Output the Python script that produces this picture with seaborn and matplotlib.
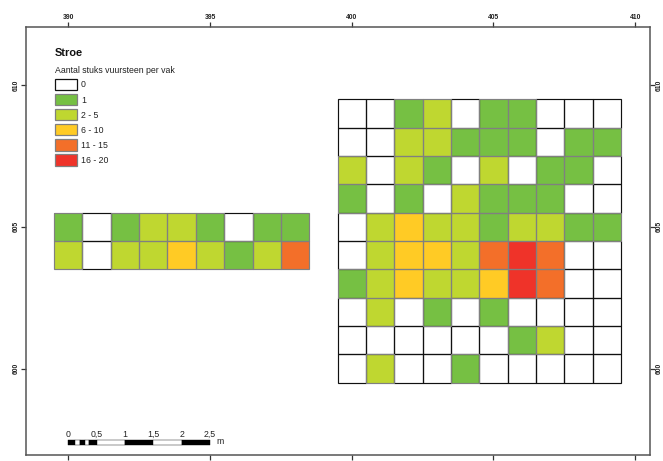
import numpy as np
import matplotlib
matplotlib.use("Agg")
import matplotlib.pyplot as plt
from matplotlib.colors import ListedColormap
from matplotlib.patches import Patch, Rectangle
import seaborn as sns

sns.set_theme(style="white")
plt.rcParams['font.family'] = ['Liberation Sans', 'DejaVu Sans']

title = "Stroe"
legend_title = "Aantal stuks vuursteen per vak"
class_labels = ["0", "1", "2 - 5", "6 - 10", "11 - 15", "16 - 20"]
class_colors = ["#ffffff", "#76c043", "#bfd730", "#ffcb25", "#f36f29", "#ef3329"]

# class index per cell, north to south
east_block = [
    [0, 0, 1, 2, 0, 1, 1, 0, 0, 0],
    [0, 0, 2, 2, 1, 1, 1, 0, 1, 1],
    [2, 0, 2, 1, 0, 2, 0, 1, 1, 0],
    [1, 0, 1, 0, 2, 1, 1, 1, 0, 0],
    [0, 2, 3, 2, 2, 1, 2, 2, 1, 1],
    [0, 2, 3, 3, 2, 4, 5, 4, 0, 0],
    [1, 2, 3, 2, 2, 3, 5, 4, 0, 0],
    [0, 2, 0, 1, 0, 1, 0, 0, 0, 0],
    [0, 0, 0, 0, 0, 0, 1, 2, 0, 0],
    [0, 2, 0, 0, 1, 0, 0, 0, 0, 0],
]
west_block = [
    [1, 0, 1, 2, 2, 1, 0, 1, 1],
    [2, 0, 2, 2, 3, 2, 1, 2, 4],
]
east_x0, east_ytop = 399.5, 609.5
west_x0, west_ytop = 389.5, 605.5

x_ticks = [390, 395, 400, 405, 410]
y_ticks = [600, 605, 610]
x_limits = (388.5, 410.52)
y_limits = (596.95, 612.06)

scale_labels = ["0", "0,5", "1", "1,5", "2", "2,5"]
scale_positions = [0, 0.5, 1, 1.5, 2, 2.5]
scale_edges = [0, 0.125, 0.2, 0.3, 0.375, 0.5, 1, 1.5, 2, 2.5]
scale_unit = "m"
map_units_per_m = 2.0

# combined cell table on a 1-unit grid
gx0, gytop = west_x0, east_ytop
grid = np.full((10, 20), np.nan)
for i, row in enumerate(east_block):
    for j, v in enumerate(row):
        grid[int(gytop - east_ytop) + i, int(east_x0 - gx0) + j] = v
for i, row in enumerate(west_block):
    for j, v in enumerate(row):
        grid[int(gytop - west_ytop) + i, int(west_x0 - gx0) + j] = v

fig = plt.figure(figsize=(6.63, 4.61), dpi=100, facecolor="white")
ax = fig.add_axes([25.7 / 663, 1 - 455 / 461, (650 - 25.7) / 663, (455 - 26.7) / 461])

cmap = ListedColormap(class_colors)
sns.heatmap(grid, ax=ax, cmap=cmap, vmin=-0.5, vmax=5.5, cbar=False, linewidths=0,
            square=False, xticklabels=False, yticklabels=False)

# cell outlines: black around empty cells, grey (on top) around filled ones
for draw_filled in (False, True):
    for (r, c), v in np.ndenumerate(grid):
        if np.isnan(v) or (v > 0) != draw_filled:
            continue
        ax.add_patch(Rectangle((c, r), 1, 1, fill=False, linewidth=0.85,
                               edgecolor="#808080" if draw_filled else "#111111"))

to_col = lambda x: x - gx0
to_row = lambda y: gytop - y
ax.set_xlim(to_col(x_limits[0]), to_col(x_limits[1]))
ax.set_ylim(to_row(y_limits[0]), to_row(y_limits[1]))
ax.set_aspect("auto")

ax.set_xticks([to_col(v) for v in x_ticks])
ax.set_xticklabels([str(v) for v in x_ticks], fontsize=4.9, fontweight="bold", color="#222222")
ax.set_yticks([to_row(v) for v in y_ticks])
ax.set_yticklabels([str(v) for v in y_ticks], fontsize=4.9, fontweight="bold", color="#222222")
ax.tick_params(axis="both", which="major", length=3.6, width=0.9, color="#333333", pad=0.6,
               bottom=True, top=True, left=True, right=True,
               labelbottom=False, labeltop=True, labelleft=True, labelright=True)
ax.tick_params(axis="y", labelrotation=90)
for lab in ax.get_yticklabels():
    lab.set_va("center")
for s in ax.spines.values():
    s.set_visible(True)
    s.set_color("#555555")
    s.set_linewidth(1.1)

# title and legend
ax.text(to_col(389.52), to_row(611.13), title, fontsize=7.9, fontweight="bold",
        color="#111111", va="center", ha="left")
handles = [Patch(facecolor=c, edgecolor="#111111" if i == 0 else "#808080", linewidth=0.9)
           for i, c in enumerate(class_colors)]
leg = ax.legend(handles, class_labels, title=legend_title, loc="upper left",
                bbox_to_anchor=(29.0 / 624.3, 1 - 39.7 / 428.3), frameon=False,
                fontsize=6.3, title_fontsize=6.3, alignment="left",
                handlelength=2.57, handleheight=1.65, handletextpad=0.42,
                labelspacing=0.4, borderpad=0, borderaxespad=0)
leg._legend_box.sep = 2.5
for t in leg.get_texts():
    t.set_color("#222222")
leg.get_title().set_color("#222222")

# scale bar
y_bar_top, y_bar_bot = to_row(597.48), to_row(597.30)
x0 = 390.0
for k, (a, b) in enumerate(zip(scale_edges[:-1], scale_edges[1:])):
    ax.add_patch(Rectangle((to_col(x0 + a * map_units_per_m), y_bar_bot),
                           (b - a) * map_units_per_m, y_bar_top - y_bar_bot,
                           facecolor="black" if k % 2 == 0 else "white",
                           edgecolor="black", linewidth=0.3, clip_on=False))
for v, s in zip(scale_positions, scale_labels):
    ax.text(to_col(x0 + v * map_units_per_m), to_row(597.69), s, fontsize=6.3,
            color="#222222", ha="center", va="center")
ax.text(to_col(x0 + 2.5 * map_units_per_m) + 0.37, to_row(597.41), scale_unit, fontsize=6.3,
        color="#222222", ha="center", va="center")

fig.savefig("out.png", dpi=100, facecolor="white")
